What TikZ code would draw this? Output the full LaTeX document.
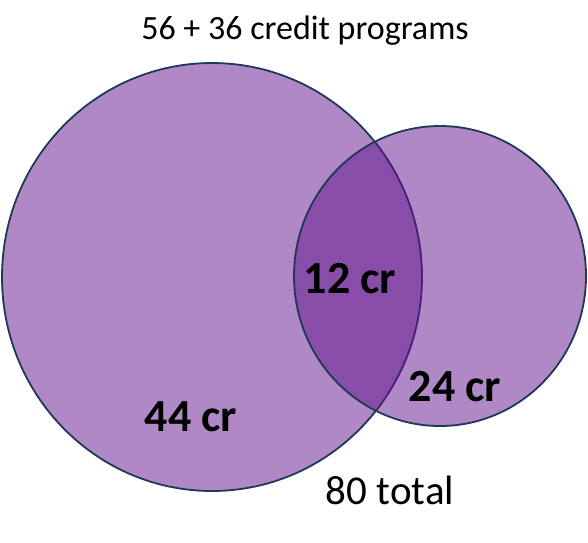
\documentclass[tikz,border=0pt]{standalone}
\usepackage{fontspec}
\setmainfont{Carlito}
\usetikzlibrary{shapes.geometric}
\definecolor{setfill}{RGB}{176,136,198}
\definecolor{lensfill}{RGB}{97,17,141}
\definecolor{setline}{RGB}{31,56,86}
\tikzset{
  setshape/.style={ellipse, draw=setline, line width=1.8pt, inner sep=0pt},
  crlabel/.style={font=\fontsize{46}{52}\selectfont\bfseries, anchor=base},
  plainlabel/.style={font=\fontsize{34}{40}\selectfont, anchor=base}
}
\begin{document}
\begin{tikzpicture}[x=1pt, y=1pt]

  \useasboundingbox (0,0) rectangle (588,542);

  %% the two sets
  \node[setshape, fill=setfill, minimum width=420pt, minimum height=428pt] (bigset) at (212,265) {};
  \node[setshape, fill=lensfill, fill opacity=0.5, minimum width=292pt, minimum height=300pt] (smallset) at (440,266) {};

  %% counts
  \node[crlabel] (bigonly) at (191,111) {44 cr};
  \node[crlabel] (both) at (350,249) {12 cr};
  \node[crlabel] (smallonly) at (455,141) {24 cr};

  %% captions
  \node[plainlabel] (title) at (305,502) {56 + 36 credit programs};
  \node[plainlabel, font=\fontsize{41}{48}\selectfont] (total) at (390,38) {80 total};

\end{tikzpicture}
\end{document}
